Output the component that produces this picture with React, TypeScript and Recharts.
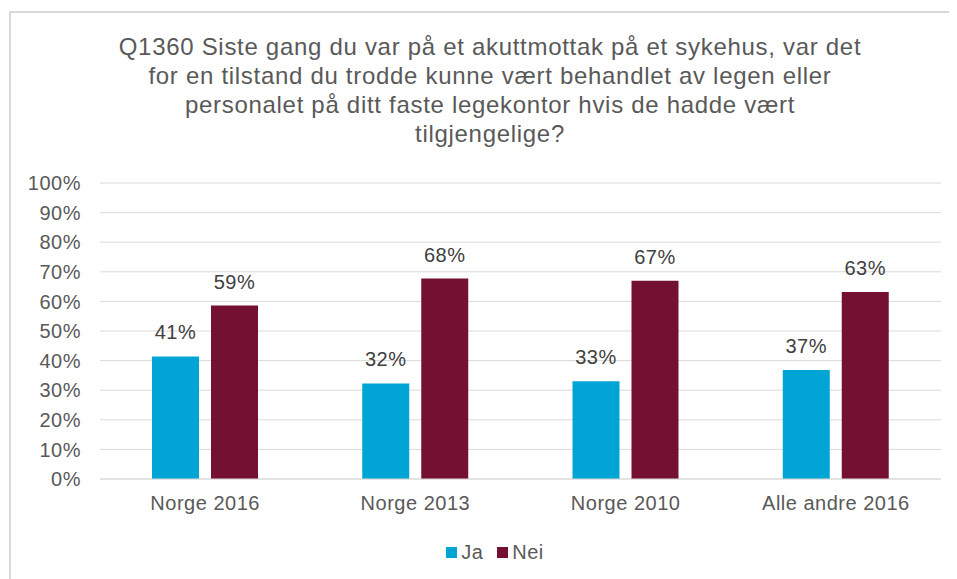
import { BarChart, Bar, XAxis, YAxis, CartesianGrid, LabelList } from 'recharts';

const categories = ['Norge 2016', 'Norge 2013', 'Norge 2010', 'Alle andre 2016'];
const jaValues = [41.4, 32.3, 33.0, 36.8];
const neiValues = [58.6, 67.7, 67.0, 63.2];
const yTicks = [0, 10, 20, 30, 40, 50, 60, 70, 80, 90, 100];
const titleLines = [
  'Q1360 Siste gang du var på et akuttmottak på et sykehus, var det',
  'for en tilstand du trodde kunne vært behandlet av legen eller',
  'personalet på ditt faste legekontor hvis de hadde vært',
  'tilgjengelige?',
];
const seriesNames = ['Ja', 'Nei'];

const COLORS: Record<string, string> = { Ja: '#00A5D6', Nei: '#741133' };
const FONT = '"Liberation Sans", Arial, sans-serif';
const TXT = '#595959';

const data = categories.map((c, i) => ({ name: c, Ja: jaValues[i], Nei: neiValues[i] }));

const pct = (v: number) => `${Math.round(v)}%`;

export default function App() {
  return (
    <div style={{ position: 'relative', width: 949, height: 571, overflow: 'hidden', fontFamily: FONT }}>
      <div style={{ position: 'absolute', left: 1, top: 3, width: 1000, height: 700,
        border: '2px solid #d9d9d9', boxSizing: 'border-box' }} />
      <div style={{ position: 'absolute', left: 0, top: 24, width: 964, textAlign: 'center',
        fontSize: 24, letterSpacing: 0.7, lineHeight: '29px', color: TXT }}>
        {titleLines.map((l) => <div key={l}>{l}</div>)}
      </div>
      <div style={{ position: 'absolute', left: 0, top: 0 }}>
        <BarChart width={949} height={571} data={data} barSize={47} barGap={12}
          margin={{ top: 175, right: 16, left: 0, bottom: 60 }}>
          <CartesianGrid vertical={false} stroke="#d9d9d9" />
          <XAxis dataKey="name" height={40} tickLine={false} tickMargin={11}
            axisLine={{ stroke: '#d9d9d9' }}
            tick={{ fill: TXT, fontSize: 20, fontFamily: FONT, letterSpacing: 0.5 }} />
          <YAxis width={92} domain={[0, 100]} ticks={yTicks} tickFormatter={(v) => `${v}%`}
            axisLine={false} tickLine={false} tickMargin={13}
            tick={{ fill: TXT, fontSize: 20, fontFamily: FONT, letterSpacing: 0.5 }} />
          {seriesNames.map((s) => (
            <Bar key={s} dataKey={s} fill={COLORS[s]} isAnimationActive={false}>
              <LabelList dataKey={s} position="top" offset={17} formatter={(v: any) => pct(Number(v))}
                style={{ fill: '#404040', fontSize: 20, fontFamily: FONT, letterSpacing: 0.5 }} />
            </Bar>
          ))}
        </BarChart>
      </div>
      <div style={{ position: 'absolute', left: 0, top: 530, width: 988, display: 'flex',
        justifyContent: 'center', alignItems: 'center', fontSize: 20, letterSpacing: 0.5,
        color: TXT, height: 28 }}>
        {seriesNames.map((s) => (
          <div key={s} style={{ display: 'flex', alignItems: 'center', marginRight: 14 }}>
            <div style={{ width: 11, height: 11, background: COLORS[s], marginRight: 4 }} />
            <span>{s}</span>
          </div>
        ))}
      </div>
    </div>
  );
}
